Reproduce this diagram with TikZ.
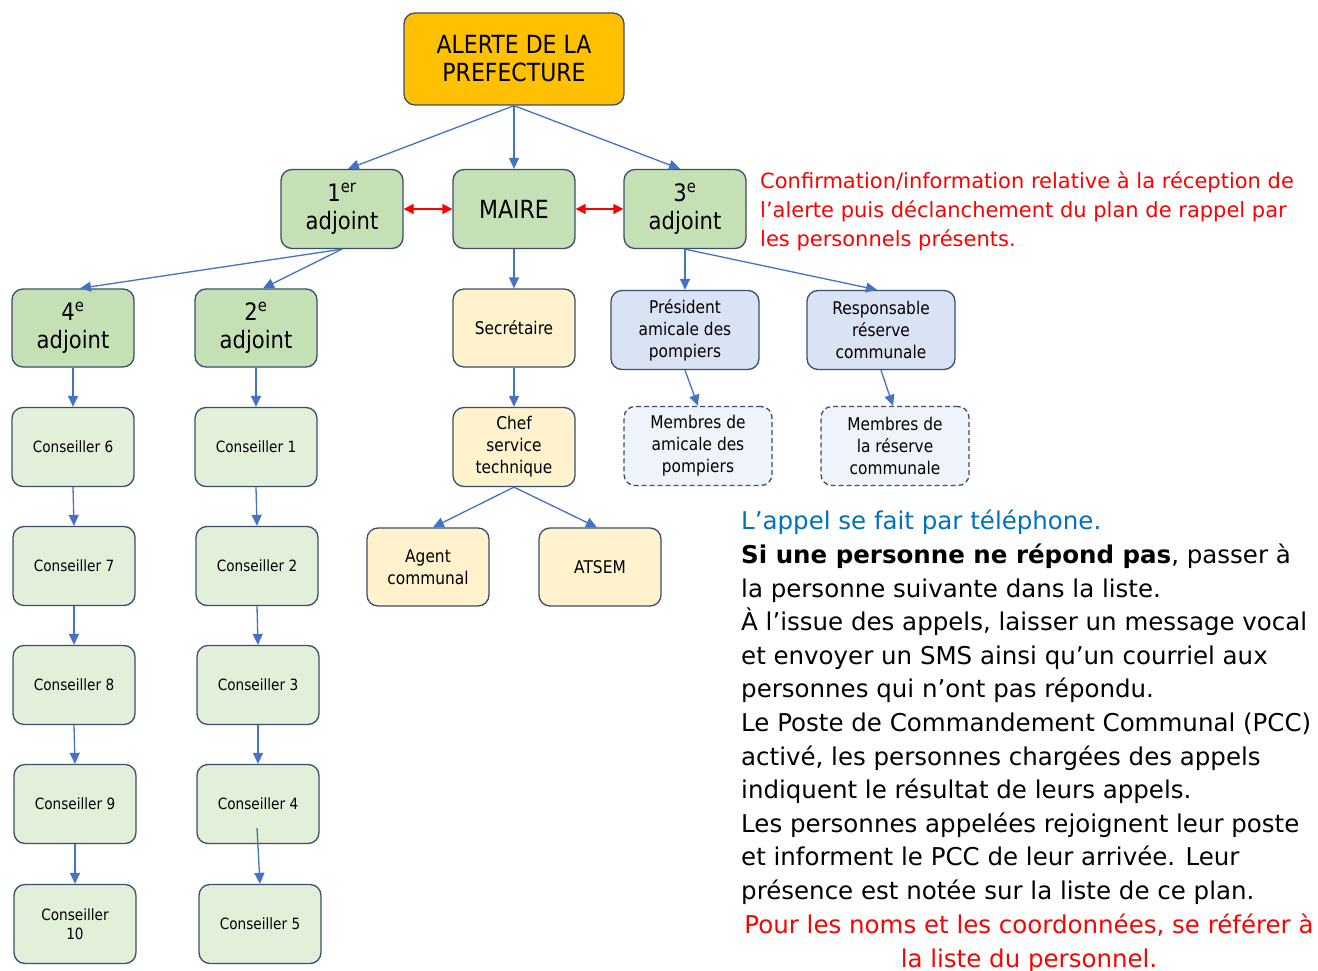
\documentclass[tikz,border=0pt]{standalone}
\usepackage{fontspec}
\setmainfont{DejaVu Sans}[FakeStretch=0.88]
\newfontfamily\widefont{DejaVu Sans}
\usetikzlibrary{arrows.meta}
\definecolor{bord}{HTML}{3A4F6E}
\definecolor{orangeF}{HTML}{FFC000}
\definecolor{greenA}{HTML}{C5E0B4}
\definecolor{greenC}{HTML}{E2F0D9}
\definecolor{yellowF}{HTML}{FFF2CC}
\definecolor{blueF}{HTML}{DAE3F3}
\definecolor{blueL}{HTML}{EFF3FA}
\definecolor{arrowB}{HTML}{4472C4}
\definecolor{redT}{HTML}{FF0000}
\definecolor{blueT}{HTML}{0070C0}
\begin{document}
\begin{tikzpicture}[x=1pt,y=-1pt,
  box/.style={draw=bord, line width=1.3pt, rounded corners=11pt, minimum width=122pt, minimum height=79pt, inner sep=2pt, align=center, text=black},
  adj/.style={box, fill=greenA, font=\fontsize{24}{28}\selectfont},
  cons/.style={box, fill=greenC, font=\fontsize{15.5}{19}\selectfont},
  yel/.style={box, fill=yellowF, font=\fontsize{17.5}{22}\selectfont},
  blu/.style={box, fill=blueF, minimum width=148pt, font=\fontsize{17.5}{22}\selectfont},
  dash box/.style={box, fill=blueL, minimum width=148pt, dashed, dash pattern=on 5pt off 3pt, font=\fontsize{17.5}{22}\selectfont},
  arr/.style={draw=arrowB, line width=1.3pt, -{Triangle[length=11pt,width=10pt]}},
  red arr/.style={draw=redT, line width=1.3pt, {Triangle[length=10pt,width=10pt]}-{Triangle[length=10pt,width=10pt]}}
]
\useasboundingbox (0,0) rectangle (1318,971);
\fill[white] (0,0) rectangle (1318,971);

% top
\node[box, fill=orangeF, minimum width=220pt, minimum height=92pt, font=\fontsize{25}{28}\selectfont] (alerte) at (514,59) {ALERTE DE LA\\PREFECTURE};
\node[adj] (a1) at (342,209) {1\textsuperscript{er}\\adjoint};
\node[adj, font=\fontsize{25}{28}\selectfont] (maire) at (514,209) {MAIRE};
\node[adj] (a3) at (685,209) {3\textsuperscript{e}\\adjoint};
\node[adj, minimum height=78pt] (a4) at (73,328) {4\textsuperscript{e}\\adjoint};
\node[adj, minimum height=78pt] (a2) at (256,328) {2\textsuperscript{e}\\adjoint};

\node[yel, minimum height=78pt] (secr) at (514,328) {Secrétaire};
\node[yel] (chef) at (514,447) {Chef\\service\\technique};
\node[yel, minimum height=78pt] (agent) at (428,567) {Agent\\communal};
\node[yel, minimum height=78pt] (atsem) at (600,567) {ATSEM};

\node[blu] (pres) at (685,330) {Président\\amicale des\\pompiers};
\node[blu] (resp) at (881,330) {Responsable\\réserve\\communale};
\node[dash box] (mam) at (698,446) {Membres de\\amicale des\\pompiers};
\node[dash box] (mres) at (895,446) {Membres de\\la réserve\\communale};

% conseillers
\node[cons] (c6) at (73,447) {Conseiller 6};
\node[cons] (c7) at (74,566) {Conseiller 7};
\node[cons] (c8) at (74,685) {Conseiller 8};
\node[cons] (c9) at (75,804) {Conseiller 9};
\node[cons] (c10) at (75,924) {Conseiller\\10};
\node[cons] (c1) at (256,447) {Conseiller 1};
\node[cons] (c2) at (257,566) {Conseiller 2};
\node[cons] (c3) at (258,685) {Conseiller 3};
\node[cons] (c4) at (258,804) {Conseiller 4};
\node[cons] (c5) at (260,924) {Conseiller 5};

% arrows
\draw[arr] (alerte.south) -- ([xshift=6pt]a1.north);
\draw[arr] (alerte.south) -- (maire.north);
\draw[arr] (alerte.south) -- ([xshift=-5pt]a3.north);
\draw[red arr] (a1.east) -- (maire.west);
\draw[red arr] (maire.east) -- (a3.west);
\draw[arr] (a1.south) -- ([xshift=7pt]a4.north);
\draw[arr] (a1.south) -- ([xshift=7pt]a2.north);
\draw[arr] (maire.south) -- (secr.north);
\draw[arr] (secr.south) -- (chef.north);
\draw[arr] (chef.south) -- ([xshift=5pt]agent.north);
\draw[arr] (chef.south) -- ([xshift=-3pt]atsem.north);
\draw[arr] (a3.south) -- (pres.north);
\draw[arr] (a3.south) -- ([xshift=-4pt]resp.north);
\draw[arr] (pres.south) -- (mam.north);
\draw[arr] (resp.south) -- ([xshift=-2pt]mres.north);
\draw[arr] (a4.south) -- (c6.north);
\draw[arr] (c6.south) -- (c7.north);
\draw[arr] (c7.south) -- (c8.north);
\draw[arr] (c8.south) -- (c9.north);
\draw[arr] (c9.south) -- (c10.north);
\draw[arr] (a2.south) -- (c1.north);
\draw[arr] (c1.south) -- (c2.north);
\draw[arr] (c2.south) -- (c3.north);
\draw[arr] (c3.south) -- (c4.north);
\draw[arr] ([yshift=-24pt,xshift=-1pt]c4.center) -- (c5.north);

% red confirmation text
\node[anchor=north west, inner sep=0pt, align=left, text=redT, font=\widefont\fontsize{21}{29}\selectfont] (conf) at (760,172)
 {Confirmation/information relative à la réception de\\l’alerte puis déclanchement du plan de rappel par\\les personnels présents.};

% text block
\node[anchor=north west, inner sep=0pt, align=left, font=\widefont\fontsize{24.5}{33.6}\selectfont] (txt) at (741,510)
 {\textcolor{blueT}{L’appel se fait par téléphone.}\\
  \textbf{Si une personne ne répond pas}, passer à\\
  la personne suivante dans la liste.\\
  À l’issue des appels, laisser un message vocal\\
  et envoyer un SMS ainsi qu’un courriel aux\\
  personnes qui n’ont pas répondu.\\
  Le Poste de Commandement Communal (PCC)\\
  activé, les personnes chargées des appels\\
  indiquent le résultat de leurs appels.\\
  Les personnes appelées rejoignent leur poste\\
  et informent le PCC de leur arrivée. Leur\\
  présence est notée sur la liste de ce plan.};
\node[anchor=north, inner sep=0pt, align=center, text=redT, font=\widefont\fontsize{24.5}{33.6}\selectfont] (refer) at (1029,914)
 {Pour les noms et les coordonnées, se référer à\\la liste du personnel.};
\end{tikzpicture}
\end{document}
